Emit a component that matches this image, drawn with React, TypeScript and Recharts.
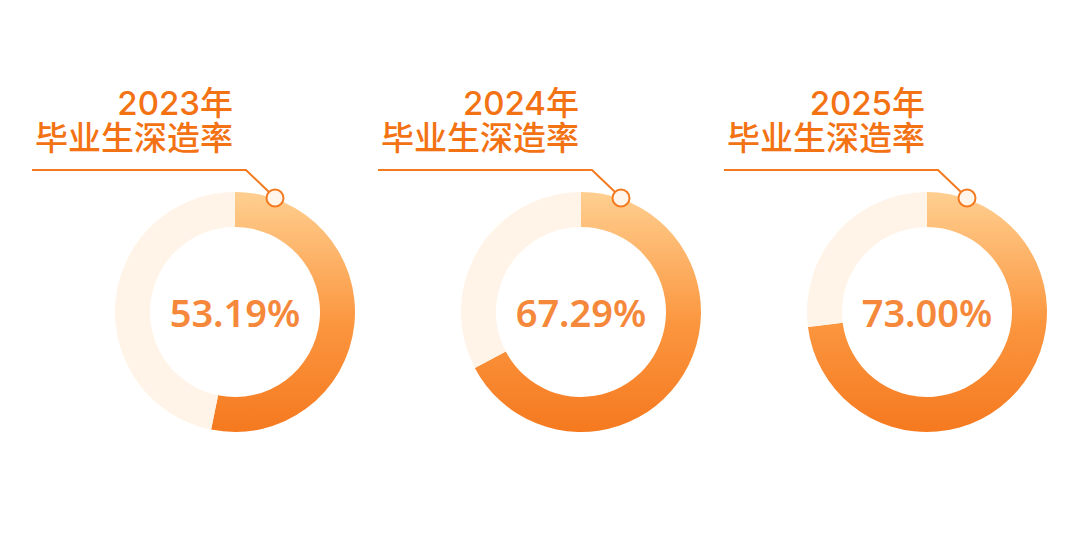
import React from 'react'
import { PieChart, Pie, Cell, Label } from 'recharts'

const years = ['2023年', '2024年', '2025年']
const rates = [53.19, 67.29, 73.0]
const titleText = '毕业生深造率'

const W = 1080
const H = 560
const centersX = [235, 581, 927]
const CY = 312
const INNER = 85
const OUTER = 120

const ORANGE = '#f37214'
const LINE = '#f37a1f'
const REST = '#fff4e7'

// leader lines and dots drawn above the rings
function Leaders() {
  return (
    <svg width={W} height={H} style={{ position: 'absolute', left: 0, top: 0, pointerEvents: 'none' }}>
      {centersX.map((cx) => {
        const dotX = cx + 40
        const dotY = 198
        return (
          <g key={cx}>
            <polyline
              points={`${cx - 203},170 ${cx + 11},170 ${dotX - 6},${dotY - 6}`}
              fill="none"
              stroke={LINE}
              strokeWidth={2}
            />
            <circle cx={dotX} cy={dotY} r={8.5} fill="#fff5ea" stroke={LINE} strokeWidth={2} />
          </g>
        )
      })}
    </svg>
  )
}

// two-line title, one text block per ring
function Titles() {
  return (
    <>
      {years.map((y, i) => (
        <div
          key={y}
          style={{
            position: 'absolute',
            right: W - (centersX[i] - 2),
            top: 86,
            textAlign: 'right',
            whiteSpace: 'pre-line',
            lineHeight: '35px',
            fontSize: 33,
            fontWeight: 500,
            color: ORANGE,
            fontFamily: "Inter, 'Noto Sans CJK SC', sans-serif",
          }}
        >
          {`${y}\n${titleText}`}
        </div>
      ))}
    </>
  )
}

export default function App() {
  return (
    <div style={{ position: 'absolute', left: 0, top: 0, width: W, height: H, background: '#fff' }}>
      <PieChart width={W} height={H} margin={{ top: 0, right: 0, bottom: 0, left: 0 }}>
        <defs>
          <linearGradient id="ringGrad" gradientUnits="userSpaceOnUse" x1="0" y1={CY - OUTER} x2="0" y2={CY + OUTER}>
            <stop offset="0%" stopColor="#ffcf90" />
            <stop offset="55%" stopColor="#fb963f" />
            <stop offset="100%" stopColor="#f5791f" />
          </linearGradient>
        </defs>
        {rates.map((r, i) => (
          <Pie
            key={years[i]}
            data={[
              { name: '深造', value: r },
              { name: '其他', value: 100 - r },
            ]}
            dataKey="value"
            cx={centersX[i]}
            cy={CY}
            innerRadius={INNER}
            outerRadius={OUTER}
            startAngle={90}
            endAngle={-270}
            stroke="none"
            isAnimationActive={false}
          >
            <Cell fill="url(#ringGrad)" />
            <Cell fill={REST} />
            <Label
              position="center"
              content={() => (
                <text
                  x={centersX[i]}
                  y={CY + 15}
                  textAnchor="middle"
                  fill="#f5883a"
                  fontSize={38}
                  fontWeight={600}
                  fontFamily="'Noto Sans', sans-serif"
                >
                  {r.toFixed(2)}%
                </text>
              )}
            />
          </Pie>
        ))}
      </PieChart>
      <Leaders />
      <Titles />
    </div>
  )
}
